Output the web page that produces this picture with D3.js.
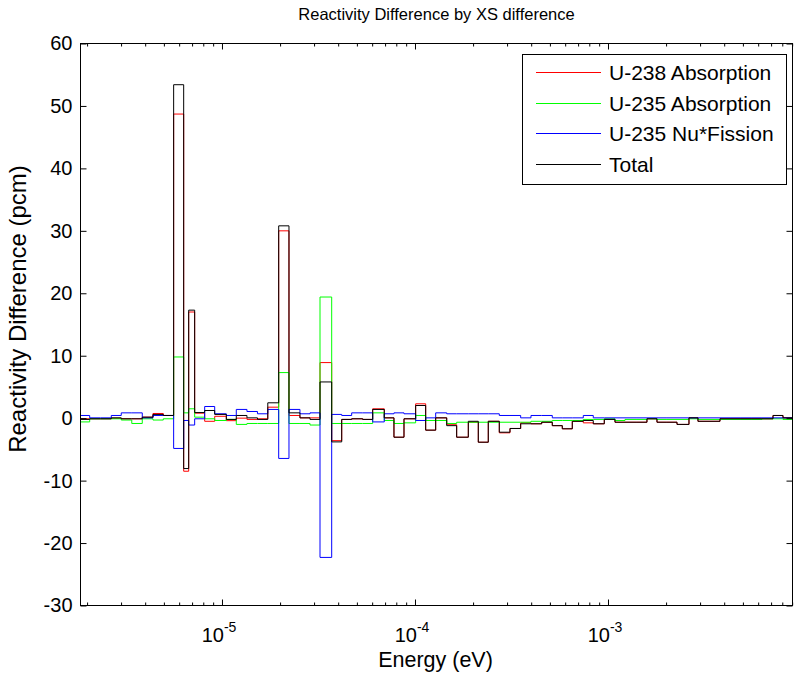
<!DOCTYPE html>
<html>
<head>
<meta charset="utf-8">
<script src="https://cdn.jsdelivr.net/npm/d3@7"></script>
<style>
  body { margin: 0; background: #fff; }
  svg { display: block; font-family: Arial, "Liberation Sans", Helvetica, sans-serif; }
</style>
</head>
<body>
<div id="plot"></div>
<script>
// Energy group boundaries (eV)
const edges = [
  1.849e-6, 2.063e-6, 2.347e-6, 2.669e-6, 3.007e-6, 3.409e-6, 3.864e-6, 4.390e-6, 4.964e-6, 5.618e-6,
  6.332e-6, 6.722e-6, 7.218e-6, 8.134e-6, 9.167e-6, 1.053e-5, 1.186e-5, 1.347e-5, 1.527e-5, 1.727e-5,
  1.967e-5, 2.224e-5, 2.535e-5, 2.858e-5, 3.220e-5, 3.702e-5, 4.172e-5, 4.699e-5, 5.358e-5, 6.036e-5,
  6.932e-5, 7.781e-5, 8.770e-5, 1.008e-4, 1.136e-4, 1.280e-4, 1.460e-4, 1.644e-4, 1.889e-4, 2.128e-4,
  2.397e-4, 2.734e-4, 3.106e-4, 3.528e-4, 3.990e-4, 4.533e-4, 5.145e-4, 5.797e-4, 6.531e-4, 7.447e-4,
  8.390e-4, 9.568e-4, 1.087e-3, 1.225e-3, 1.397e-3, 1.592e-3, 1.794e-3, 2.021e-3, 2.278e-3, 2.628e-3,
  2.925e-3, 3.337e-3, 3.804e-3, 4.338e-3, 4.887e-3, 5.572e-3, 6.278e-3, 7.160e-3, 8.067e-3, 9.036e-3
];

// Reactivity difference per group (pcm)
const u238Abs = [
  -0.1, -0.1, -0.1, 0.0, -0.1, -0.1, 0.16, 0.75, 0.43, 48.7,
  -8.5, 17.0, 0.8, -0.5, 0.3, -0.4, 0.0, -0.2, -0.1, 1.76,
  30.0, 0.43, 0.05, 0.05, 8.9, -3.6, -0.2, -0.1, -0.2, 1.5,
  0.05, -3.05, -0.1, 2.3, -1.92, 0.05, -1.05, -3.05, -0.65, -3.85,
  -0.5, -2.35, -1.65, -0.75, -0.9, -0.65, -1.2, -1.7, -0.5, -0.75,
  -0.9, -0.2, -0.65, -0.65, -0.65, -0.1, -0.65, -0.65, -1.0, 0.05,
  -0.5, -0.5, -0.1, -0.1, -0.1, -0.1, -0.1, 0.43, 0.05
];
const u235Abs = [
  -0.6, -0.1, -0.1, -0.1, -0.3, -0.85, -0.1, -0.3, -0.1, 9.8,
  0.85, 1.5, 0.16, -0.1, -0.37, -0.2, -1.0, -0.85, -0.85, -0.85,
  7.3, -0.85, -0.85, -1.1, 19.4, -0.85, -0.85, -0.85, -0.85, 0.85,
  -0.37, -0.85, -0.75, 0.43, -0.37, -0.37, -0.85, -0.65, -0.65, -0.65,
  -0.65, -0.65, -0.65, -0.65, -0.5, -0.5, -0.37, -0.37, -0.37, -0.2,
  -0.2, -0.1, -0.37, -0.2, -0.2, -0.1, -0.2, -0.2, -0.2, -0.1,
  -0.2, -0.2, -0.2, -0.2, -0.2, -0.2, -0.1, -0.1, -0.2
];
const u235NuFis = [
  0.43, 0.05, 0.05, 0.43, 0.85, 0.85, 0.05, 0.43, 0.43, -4.85,
  -0.37, -1.1, -0.1, 1.87, 0.7, 0.43, 1.4, 1.07, 0.7, 1.4,
  -6.45, 1.4, 0.7, 0.85, -22.3, 0.6, 0.43, 0.85, 0.85, -0.6,
  0.7, 0.85, 0.7, -0.37, 0.05, 0.85, 0.7, 0.7, 0.7, 0.7,
  0.7, 0.43, 0.43, 0.05, 0.43, 0.43, 0.05, 0.05, 0.05, 0.43,
  0.05, 0.05, 0.05, 0.05, 0.05, 0.05, 0.05, 0.05, 0.05, 0.05,
  0.05, 0.05, 0.05, 0.05, 0.05, 0.05, 0.05, 0.05, 0.05
];
const total = [
  -0.2, -0.1, -0.1, 0.05, -0.1, -0.1, 0.16, 0.6, 0.43, 53.4,
  -8.07, 17.3, 0.9, 1.23, 0.6, -0.2, 0.43, 0.05, -0.2, 2.46,
  30.8, 0.85, 0.05, -0.2, 5.8, -3.8, -0.2, -0.1, -0.2, 1.4,
  0.05, -3.05, -0.1, 2.03, -1.92, 0.05, -1.2, -3.05, -0.5, -3.85,
  -0.5, -2.25, -1.65, -0.9, -0.9, -0.65, -1.2, -1.7, -0.5, -0.37,
  -0.9, -0.2, -0.65, -0.65, -0.65, -0.1, -0.65, -0.65, -1.0, 0.05,
  -0.5, -0.5, -0.1, -0.1, -0.1, -0.1, -0.1, 0.43, 0.05
];

const seriesNames = ["U-238 Absorption", "U-235 Absorption", "U-235 Nu*Fission", "Total"];
const seriesColors = ["#ff0000", "#00ff00", "#0000ff", "#000000"];
const yTicks = [-30, -20, -10, 0, 10, 20, 30, 40, 50, 60];
const xMajorTicks = [1e-5, 1e-4, 1e-3];
const xMajorExp = ["-5", "-4", "-3"];

const W = 795, H = 677;
const plot = { left: 80.5, right: 792.5, top: 43.5, bottom: 605.5 };

const svg = d3.select("#plot").append("svg")
    .attr("width", W)
    .attr("height", H);

const x = d3.scaleLog()
    .domain([edges[0], edges[edges.length - 1]])
    .range([plot.left, plot.right]);

const y = d3.scaleLinear()
    .domain([-30, 60])
    .range([plot.bottom, plot.top]);

// minor ticks: 2..9 times each decade inside the domain
const xMinorTicks = [];
[1e-6, 1e-5, 1e-4, 1e-3].forEach(dec => {
    for (let k = 2; k <= 9; k++) {
        const v = dec * k;
        if (v > x.domain()[0] && v < x.domain()[1]) xMinorTicks.push(v);
    }
});

// stairs series
const stairs = d3.line()
    .x(d => x(d[0]))
    .y(d => y(d[1]))
    .curve(d3.curveStepAfter);

const allSeries = [u238Abs, u235Abs, u235NuFis, total];
const plotArea = svg.append("g");
allSeries.forEach((vals, i) => {
    const pts = vals.map((v, j) => [edges[j], v]);
    pts.push([edges[vals.length], vals[vals.length - 1]]);
    plotArea.append("path")
        .datum(pts)
        .attr("d", stairs)
        .attr("fill", "none")
        .attr("stroke", seriesColors[i])
        .attr("stroke-width", 1);
});

// axes
const fontSize = 20;
const yAxisL = svg.append("g")
    .attr("transform", `translate(${plot.left},0)`)
    .call(d3.axisLeft(y).tickValues(yTicks).tickSize(-6).tickPadding(8).tickFormat(d => String(d)));
const yAxisR = svg.append("g")
    .attr("transform", `translate(${plot.right},0)`)
    .call(d3.axisRight(y).tickValues(yTicks).tickSize(-6).tickFormat(""));

const xAxisB = svg.append("g")
    .attr("transform", `translate(0,${plot.bottom})`)
    .call(d3.axisBottom(x).tickValues(xMajorTicks).tickSize(-6).tickFormat(""));
const xAxisBm = svg.append("g")
    .attr("transform", `translate(0,${plot.bottom})`)
    .call(d3.axisBottom(x).tickValues(xMinorTicks).tickSize(-3).tickFormat(""));
const xAxisT = svg.append("g")
    .attr("transform", `translate(0,${plot.top})`)
    .call(d3.axisTop(x).tickValues(xMajorTicks).tickSize(-6).tickFormat(""));
const xAxisTm = svg.append("g")
    .attr("transform", `translate(0,${plot.top})`)
    .call(d3.axisTop(x).tickValues(xMinorTicks).tickSize(-3).tickFormat(""));

[yAxisL, yAxisR, xAxisB, xAxisBm, xAxisT, xAxisTm].forEach(g => {
    g.select(".domain").remove();
    g.selectAll("line").attr("stroke", "#000");
});
yAxisL.selectAll("text")
    .attr("font-size", fontSize)
    .attr("font-family", "Arial, 'Liberation Sans', sans-serif")
    .attr("fill", "#000");

// box
svg.append("rect")
    .attr("x", plot.left).attr("y", plot.top)
    .attr("width", plot.right - plot.left)
    .attr("height", plot.bottom - plot.top)
    .attr("fill", "none")
    .attr("stroke", "#000");

// x tick labels 10^n
xMajorTicks.forEach((t, i) => {
    const lab = svg.append("text")
        .attr("x", x(t) - 3)
        .attr("y", 642)
        .attr("text-anchor", "middle")
        .attr("font-size", fontSize)
        .attr("fill", "#000");
    lab.append("tspan").text("10");
    lab.append("tspan")
        .attr("font-size", 14)
        .attr("dy", -10)
        .text(xMajorExp[i]);
});

// axis labels and title
svg.append("text")
    .attr("x", (plot.left + plot.right) / 2 - 1)
    .attr("y", 667)
    .attr("text-anchor", "middle")
    .attr("font-size", 21.5)
    .text("Energy (eV)");

svg.append("text")
    .attr("transform", `translate(26,${309}) rotate(-90)`)
    .attr("text-anchor", "middle")
    .attr("font-size", 24)
    .text("Reactivity Difference (pcm)");

svg.append("text")
    .attr("x", (plot.left + plot.right) / 2)
    .attr("y", 20)
    .attr("text-anchor", "middle")
    .attr("font-size", 16.5)
    .text("Reactivity Difference by XS difference");

// legend
const legend = svg.append("g");
legend.append("rect")
    .attr("x", 522.5).attr("y", 54.5)
    .attr("width", 264).attr("height", 130)
    .attr("fill", "#fff")
    .attr("stroke", "#000");
seriesNames.forEach((name, i) => {
    const ly = Math.round(72 + i * 30.5) + 0.5;
    legend.append("line")
        .attr("x1", 536).attr("x2", 601)
        .attr("y1", ly).attr("y2", ly)
        .attr("stroke", seriesColors[i])
        .attr("stroke-width", 1);
    legend.append("text")
        .attr("x", 609)
        .attr("y", ly + 7.5)
        .attr("font-size", 21)
        .text(name);
});
</script>
</body>
</html>
